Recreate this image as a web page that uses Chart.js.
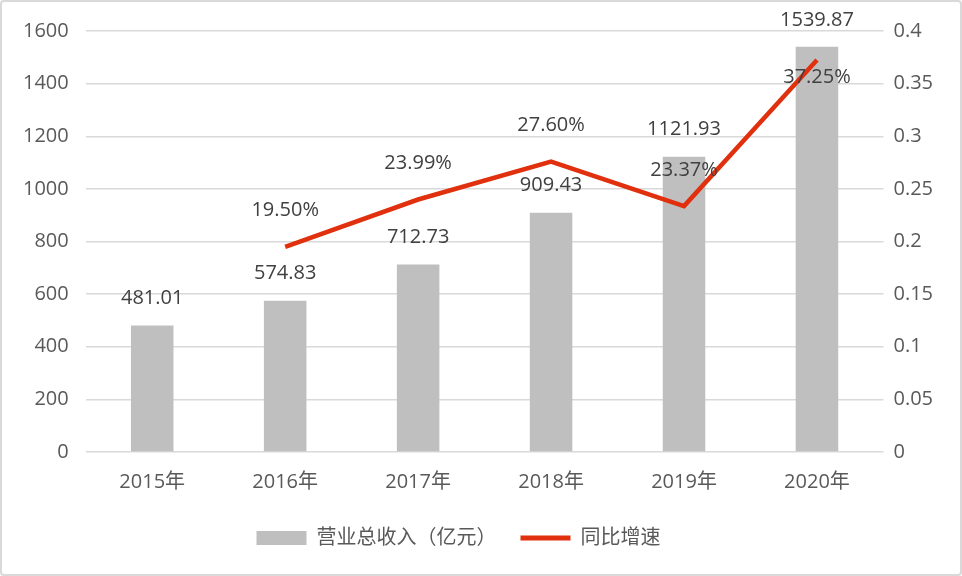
<!DOCTYPE html>
<html>
<head>
<meta charset="utf-8">
<script src="https://cdn.jsdelivr.net/npm/chart.js@4.4.0/dist/chart.umd.min.js"></script>
<style>
    html, body { margin: 0; padding: 0; background: #fff; }
    #wrap {
        position: absolute; left: 0; top: 0;
        width: 958px; height: 572px;
        border: 2px solid #d9d9d9; border-radius: 4px;
    }
    canvas { display: block; }
</style>
</head>
<body>
<div id="wrap"><canvas id="chart" width="958" height="572"></canvas></div>
<script>
const years = ["2015年", "2016年", "2017年", "2018年", "2019年", "2020年"];
const revenue = [481.01, 574.83, 712.73, 909.43, 1121.93, 1539.87];
const growth = [null, 0.195, 0.2399, 0.276, 0.2337, 0.3725];
const leftTicks = [0, 200, 400, 600, 800, 1000, 1200, 1400, 1600];
const rightTicks = [0, 0.05, 0.1, 0.15, 0.2, 0.25, 0.3, 0.35, 0.4];

const fontFamily = "'Open Sans', 'Noto Sans CJK SC', sans-serif";
const textColor = "#595959";

// draw value labels over bars and line points
const valueLabels = {
    id: "valueLabels",
    afterLayout(chart) {
        // legend sits a little left of centre in the original
        chart.legend.left -= 32;
    },
    afterDatasetsDraw(chart) {
        const ctx = chart.ctx;
        ctx.save();
        ctx.font = "20px " + fontFamily;
        ctx.fillStyle = "#404040";
        ctx.textAlign = "center";
        ctx.textBaseline = "middle";
        chart.getDatasetMeta(1).data.forEach((el, i) => {
            ctx.fillText(revenue[i].toFixed(2), el.x, el.y - 27);
        });
        chart.getDatasetMeta(0).data.forEach((el, i) => {
            if (growth[i] === null) return;
            let y = el.y - 36;
            if (y < chart.chartArea.top) y = el.y + 17;
            ctx.fillText((growth[i] * 100).toFixed(2) + "%", el.x, y);
        });
        ctx.restore();
    }
};

new Chart(document.getElementById("chart"), {
    type: "bar",
    data: {
        labels: years,
        datasets: [
            {
                type: "line",
                label: "同比增速",
                data: growth,
                yAxisID: "y1",
                borderColor: "#e0300d",
                backgroundColor: "#e0300d",
                borderWidth: 4.5,
                pointRadius: 0,
                tension: 0,
                order: 0
            },
            {
                label: "营业总收入（亿元）",
                data: revenue,
                yAxisID: "y",
                backgroundColor: "#bfbfbf",
                categoryPercentage: 1,
                barPercentage: 0.32,
                order: 1
            }
        ]
    },
    options: {
        responsive: false,
        animation: false,
        layout: { padding: { left: 4, right: 17, top: 29, bottom: 16 } },
        plugins: {
            legend: {
                position: "bottom",
                reverse: true,
                labels: {
                    color: textColor,
                    font: { size: 20, family: fontFamily },
                    usePointStyle: true,
                    pointStyleWidth: 50,
                    boxHeight: 14,
                    padding: 24,
                    generateLabels(chart) {
                        return chart.data.datasets.map((ds, i) => ({
                            text: ds.label,
                            fillStyle: ds.backgroundColor,
                            strokeStyle: ds.backgroundColor,
                            lineWidth: ds.type === "line" ? 5 : 0,
                            pointStyle: ds.type === "line" ? "line" : "rect",
                            datasetIndex: i,
                            fontColor: textColor
                        }));
                    }
                }
            },
            tooltip: { enabled: false }
        },
        scales: {
            x: {
                grid: { display: false },
                border: { display: false },
                ticks: { color: textColor, font: { size: 20, family: fontFamily }, padding: 10 }
            },
            y: {
                position: "left",
                min: 0,
                max: 1600,
                afterBuildTicks: axis => { axis.ticks = leftTicks.map(v => ({ value: v })); },
                grid: { color: "#d9d9d9", lineWidth: 1.5, drawTicks: false },
                border: { display: false },
                ticks: {
                    color: textColor, font: { size: 20, family: fontFamily }, padding: 17,
                    callback: v => String(v)
                }
            },
            y1: {
                position: "right",
                min: 0,
                max: 0.4,
                afterBuildTicks: axis => { axis.ticks = rightTicks.map(v => ({ value: v })); },
                grid: { display: false, drawTicks: false },
                border: { display: false },
                ticks: {
                    color: textColor, font: { size: 20, family: fontFamily }, padding: 10,
                    callback: v => String(Number(v.toFixed(2)))
                }
            }
        }
    },
    plugins: [valueLabels]
});
</script>
</body>
</html>
